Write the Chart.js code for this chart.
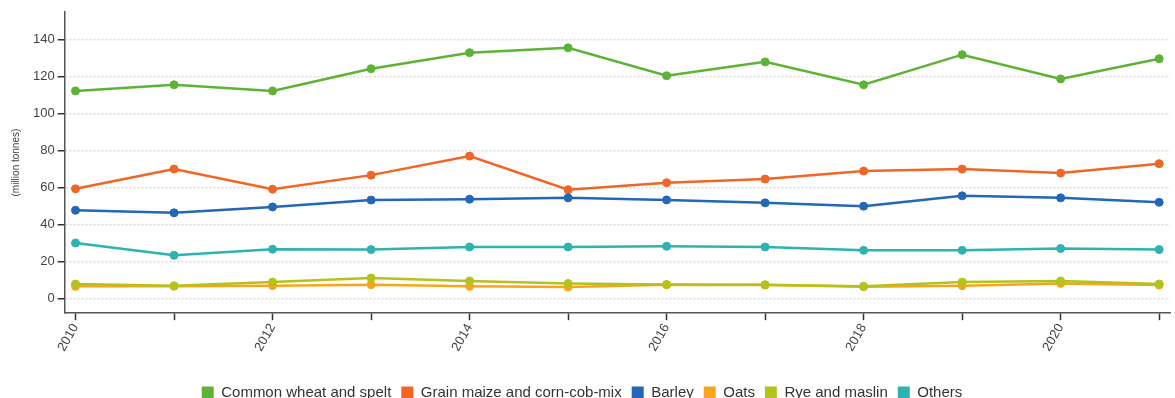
<!DOCTYPE html>
<html>
<head>
<meta charset="utf-8">
<script src="https://cdn.jsdelivr.net/npm/chart.js@4.4.1/dist/chart.umd.min.js"></script>
<style>
  html, body { margin: 0; padding: 0; background: #fff; overflow: hidden; }
  #wrap { width: 1175px; height: 398px; position: relative; }
</style>
</head>
<body>
<div id="wrap"><canvas id="c"></canvas></div>
<script>
// Harvested production of cereals, EU (million tonnes)
const years = [2010, 2011, 2012, 2013, 2014, 2015, 2016, 2017, 2018, 2019, 2020, 2021];
const yTicks = [0, 20, 40, 60, 80, 100, 120, 140];

const commonWheat = [112.3, 115.6, 112.3, 124.3, 133.0, 135.6, 120.5, 128.0, 115.6, 131.9, 118.8, 129.7];
const grainMaize  = [59.3, 70.0, 59.1, 66.7, 77.0, 58.8, 62.6, 64.6, 68.9, 70.0, 67.8, 72.9];
const barley      = [47.7, 46.3, 49.5, 53.2, 53.7, 54.4, 53.3, 51.7, 49.9, 55.5, 54.4, 52.0];
const oats        = [6.5, 6.6, 6.9, 7.4, 6.5, 6.1, 7.4, 7.2, 6.3, 6.9, 8.1, 7.2];
const ryeMaslin   = [7.8, 6.8, 8.8, 11.0, 9.4, 8.0, 7.5, 7.4, 6.5, 8.8, 9.4, 7.8];
const others      = [30.0, 23.3, 26.6, 26.4, 27.8, 27.8, 28.2, 27.8, 26.0, 26.0, 27.0, 26.4];

const seriesNames = ['Common wheat and spelt', 'Grain maize and corn-cob-mix', 'Barley', 'Oats', 'Rye and maslin', 'Others'];
const seriesColors = ['#5cb335', '#f26524', '#2367b6', '#f9a51b', '#b4c21c', '#2db3b1'];
const seriesValues = [commonWheat, grainMaize, barley, oats, ryeMaslin, others];

const FONT = '"Liberation Sans", Arial, sans-serif';

// later series are painted over earlier ones
const datasets = seriesValues.map((vals, i) => ({
  label: seriesNames[i],
  data: years.map((y, j) => ({ x: y, y: vals[j] })),
  borderColor: seriesColors[i],
  backgroundColor: seriesColors[i],
  pointBackgroundColor: seriesColors[i],
  pointBorderColor: seriesColors[i],
  borderWidth: 2.5,
  pointRadius: 4,
  pointBorderWidth: 1,
  tension: 0,
  order: seriesValues.length - i
}));

// nudge the legend row a little to the left of the canvas centre
const legendShift = {
  id: 'legendShift',
  afterLayout(chart) {
    if (chart.legend) {
      chart.legend.left -= 9;
      chart.legend.right -= 9;
    }
  }
};

new Chart(document.getElementById('c'), {
  type: 'line',
  data: { datasets },
  plugins: [legendShift],
  options: {
    responsive: true,
    maintainAspectRatio: false,
    animation: false,
    layout: { padding: { left: 10, right: 3, top: 12, bottom: -12 } },
    plugins: {
      tooltip: { enabled: false },
      legend: {
        position: 'bottom',
        labels: {
          boxWidth: 12,
          boxHeight: 12,
          padding: 10,
          color: '#333',
          font: { family: FONT, size: 15 },
          sort: (a, b) => a.datasetIndex - b.datasetIndex,
          generateLabels: (chart) => chart.data.datasets.map((d, i) => ({
            text: d.label,
            fillStyle: d.borderColor,
            strokeStyle: d.borderColor,
            lineWidth: 0,
            hidden: false,
            datasetIndex: i,
            fontColor: '#333'
          }))
        }
      }
    },
    scales: {
      x: {
        type: 'linear',
        min: 2009.89,
        max: 2021.11,
        afterBuildTicks: (scale) => { scale.ticks = years.map(v => ({ value: v })); },
        afterFit: (scale) => { scale.height += 20; },
        ticks: {
          autoSkip: false,
          minRotation: 60,
          maxRotation: 60,
          color: '#444',
          padding: 1,
          font: { family: FONT, size: 13 },
          callback: (v) => (v % 2 === 0 ? String(v) : '')
        },
        grid: {
          drawOnChartArea: false,
          drawTicks: true,
          tickLength: 7,
          tickColor: '#333',
          tickWidth: 1.5
        },
        border: { display: true, color: '#555', width: 1.5 }
      },
      y: {
        min: -8,
        max: 155,
        afterBuildTicks: (scale) => { scale.ticks = yTicks.map(v => ({ value: v })); },
        ticks: {
          color: '#444',
          padding: 3,
          font: { family: FONT, size: 13 },
          callback: (v) => String(v)
        },
        grid: {
          color: '#dcdcdc',
          lineWidth: 1.5,
          drawTicks: true,
          tickLength: 7,
          tickColor: '#333',
          tickWidth: 1.5
        },
        border: { display: true, color: '#555', width: 1.5, dash: [2, 2] },
        title: {
          display: true,
          text: '(million tonnes)',
          color: '#444',
          font: { family: FONT, size: 10 },
          padding: { top: 0, bottom: 8 }
        }
      }
    }
  }
});
</script>
</body>
</html>
